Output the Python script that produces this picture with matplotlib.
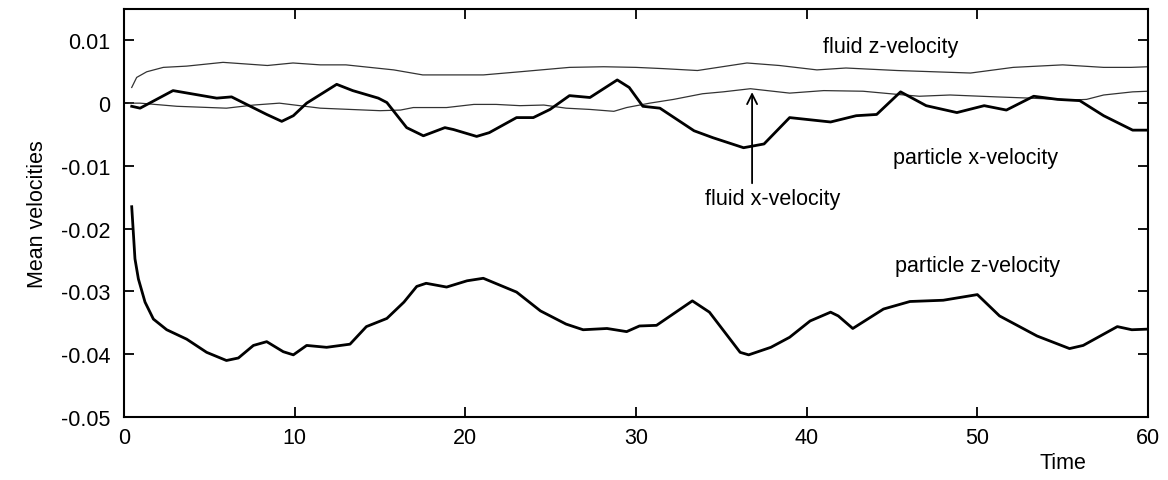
import matplotlib
matplotlib.use("Agg")
import matplotlib.pyplot as plt

plt.rcParams['font.family'] = ['Liberation Sans', 'DejaVu Sans']

# particle x-velocity (thick)
px_t = [0.45, 0.94, 2.87, 5.43, 6.3, 7.77, 8.36, 9.24, 9.92, 10.7, 12.46, 13.4, 14.9, 15.4,
        16.56, 17.54, 18.8, 19.3, 20.66, 21.4, 23.0, 23.98, 24.96, 26.1, 27.3, 28.9, 29.6,
        30.4, 31.4, 33.4, 34.5, 36.3, 37.5, 39.0, 41.4, 42.9, 44.1, 45.5, 47.0, 48.8, 50.4,
        51.7, 53.3, 54.7, 56.0, 57.4, 59.1, 60.0]
px_v = [-0.0005, -0.0008, 0.0020, 0.0008, 0.0010, -0.0010, -0.0018, -0.0029, -0.0020, 0.0000,
        0.0030, 0.0020, 0.0008, 0.0001, -0.0039, -0.0052, -0.0039, -0.0042, -0.0053, -0.0047,
        -0.0023, -0.0023, -0.0010, 0.0012, 0.0009, 0.0037, 0.0025, -0.0005, -0.0008, -0.0044,
        -0.0055, -0.0071, -0.0065, -0.0023, -0.0030, -0.0020, -0.0018, 0.0018, -0.0004,
        -0.0015, -0.0004, -0.0011, 0.0011, 0.0006, 0.0004, -0.0020, -0.0043, -0.0043]

# particle z-velocity (thick)
pz_t = [0.45, 0.64, 0.84, 1.23, 1.72, 2.5, 3.67, 4.84, 6.0, 6.7, 7.58, 8.36, 9.33, 9.92, 10.7,
        11.87, 13.24, 14.2, 15.4, 16.4, 17.15, 17.7, 18.9, 20.1, 21.05, 23.0, 24.4, 25.9, 26.9,
        28.3, 29.45, 30.2, 31.2, 33.3, 34.3, 36.1, 36.6, 37.9, 39.0, 40.2, 41.4, 41.85, 42.7,
        44.5, 46.05, 48.0, 50.0, 51.3, 53.5, 55.4, 56.2, 57.2, 58.2, 59.05, 60.0]
pz_v = [-0.0165, -0.0248, -0.0280, -0.0317, -0.0344, -0.0361, -0.0376, -0.0397, -0.0410,
        -0.0406, -0.0386, -0.0380, -0.0396, -0.0401, -0.0386, -0.0389, -0.0384, -0.0356,
        -0.0343, -0.0317, -0.0292, -0.0287, -0.0293, -0.0283, -0.0279, -0.0301, -0.0331,
        -0.0352, -0.0361, -0.0359, -0.0364, -0.0355, -0.0354, -0.0315, -0.0333, -0.0397,
        -0.0401, -0.0389, -0.0373, -0.0347, -0.0333, -0.0339, -0.0359, -0.0328, -0.0316,
        -0.0314, -0.0305, -0.0339, -0.0371, -0.0391, -0.0386, -0.0371, -0.0356, -0.0361, -0.0360]

# fluid z-velocity (thin)
fz_t = [0.45, 0.74, 1.33, 2.3, 3.67, 5.8, 8.4, 9.9, 11.5, 13.0, 15.8, 17.5, 21.06, 23.2, 26.1,
        28.1, 30.0, 31.6, 33.6, 36.5, 38.4, 40.6, 42.3, 45.3, 49.6, 52.1, 55.0, 57.4, 59.0, 60.0]
fz_v = [0.0025, 0.0041, 0.0050, 0.0057, 0.0059, 0.0065, 0.0060, 0.0064, 0.0061, 0.0061, 0.0053,
        0.0045, 0.0045, 0.0050, 0.0057, 0.0058, 0.0057, 0.0055, 0.0052, 0.0064, 0.0060, 0.0053,
        0.0056, 0.0052, 0.0048, 0.0057, 0.0061, 0.0057, 0.0057, 0.0058]

# fluid x-velocity (thin)
fx_t = [0.3, 0.94, 3.1, 6.0, 7.6, 9.1, 11.5, 15.0, 16.2, 16.95, 18.9, 20.5, 21.8, 23.2, 24.6,
        25.9, 27.3, 28.7, 29.45, 30.8, 32.2, 33.9, 35.1, 36.7, 39.0, 41.0, 43.3, 45.3, 46.6,
        48.4, 51.1, 53.1, 55.6, 56.4, 57.4, 59.1, 60.0]
fx_v = [0.0000, 0.0000, -0.0005, -0.0008, -0.0003, 0.0000, -0.0008, -0.0012, -0.0011, -0.0007,
        -0.0007, -0.0002, -0.0002, -0.0004, -0.0003, -0.0008, -0.0010, -0.0013, -0.0007, 0.0000,
        0.0006, 0.0015, 0.0018, 0.0023, 0.0016, 0.0020, 0.0019, 0.0014, 0.0011, 0.0013, 0.0010,
        0.0008, 0.0005, 0.0006, 0.0013, 0.0018, 0.0019]

xticks = [0, 10, 20, 30, 40, 50, 60]
yticks = [-0.05, -0.04, -0.03, -0.02, -0.01, 0, 0.01]
ylabels = ['-0.05', '-0.04', '-0.03', '-0.02', '-0.01', '0', '0.01']

fig = plt.figure(figsize=(11.68, 4.81), dpi=100)
ax = fig.add_axes([0.1062, 0.131, 0.8767, 0.8482])

ax.plot(fz_t, fz_v, color='#333333', lw=0.9)
ax.plot(fx_t, fx_v, color='#333333', lw=0.9)
ax.plot(px_t, px_v, color='black', lw=2.0)
ax.plot(pz_t, pz_v, color='black', lw=2.0)

ax.set_xlim(0, 60)
ax.set_ylim(-0.05, 0.015)
ax.set_xticks(xticks)
ax.set_xticklabels([str(x) for x in xticks])
ax.set_yticks(yticks)
ax.set_yticklabels(ylabels)
ax.tick_params(direction='in', length=7, width=1.3, top=True, right=True, labelsize=15.5)
ax.tick_params(axis='y', pad=10)
ax.tick_params(axis='x', pad=7)
for s in ax.spines.values():
    s.set_linewidth(1.5)

ax.set_ylabel('Mean velocities', fontsize=15.5, labelpad=9)
ax.text(0.917, -0.112, 'Time', transform=ax.transAxes, ha='center', va='center', fontsize=15.5)

fs = 15.5
ax.text(44.9, 0.0091, 'fluid z-velocity', ha='center', va='center', fontsize=fs)
ax.text(49.9, -0.0086, 'particle x-velocity', ha='center', va='center', fontsize=fs)
ax.text(38.0, -0.0152, 'fluid x-velocity', ha='center', va='center', fontsize=fs)
ax.text(50.0, -0.0258, 'particle z-velocity', ha='center', va='center', fontsize=fs)
ax.annotate('', xy=(36.8, 0.0022), xytext=(36.8, -0.0132),
            arrowprops=dict(arrowstyle='->', color='black', lw=1.3, mutation_scale=18))

fig.savefig('out.png', dpi=100)
